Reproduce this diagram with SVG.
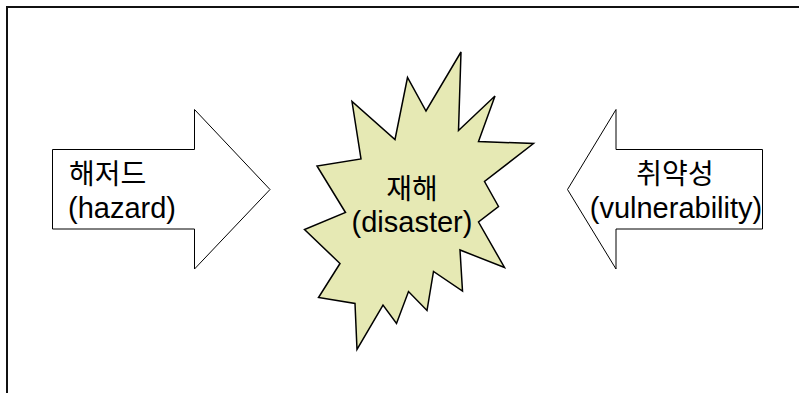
<svg xmlns="http://www.w3.org/2000/svg" width="799" height="393" viewBox="0 0 799 393">
<style>
  .txt { font-family: "Liberation Sans", "Noto Sans CJK KR", Arial, sans-serif; font-size: 29px; fill: #000; }
  .ko { font-size: 28px; }
  .arrow { fill: #fff; stroke: #000; stroke-width: 1; stroke-linejoin: miter; }
  .burst { fill: #E6E9B4; stroke: #000; stroke-width: 1.5; stroke-linejoin: miter; }
</style>
<rect x="0" y="0" width="799" height="393" fill="#fff"/>
<g id="frame">
  <path d="M7,393 V7 H799" fill="none" stroke="#111" stroke-width="2"/>
</g>
<g id="hazard">
  <polygon class="arrow" points="52.5,149.5 194.5,149.5 194.5,109.5 270,189.5 194.5,269 194.5,229 52.5,229"/>
  <text class="txt ko" x="69" y="184">해저드</text>
  <text class="txt" x="68" y="218">(hazard)</text>
</g>
<g id="vulnerability">
  <polygon class="arrow" points="762.5,149.5 616,149.5 616,109.5 567.5,189.5 616,269 616,229 762.5,229"/>
  <text class="txt ko" x="675" y="184" text-anchor="middle">취약성</text>
  <text class="txt" x="676" y="218" text-anchor="middle">(vulnerability)</text>
</g>
<g id="disaster">
  <polygon class="burst" points="461,52 458.5,130.5 495,96 478.5,141.5 533.5,143.5 484.5,181.5 498.5,206.5 478.5,222 504.5,267.5 460,250 462.5,291 433.5,271.5 427,310.5 408.5,291.5 396.5,323.5 383,305 357,349.5 355,303.5 318.5,297.5 340,263.5 304.5,229.5 345.5,212.5 317,166 361,159 352,101.5 395,139.5 407.5,77.5 426,111"/>
  <text class="txt ko" x="412" y="199" text-anchor="middle">재해</text>
  <text class="txt" x="412" y="232" text-anchor="middle">(disaster)</text>
</g>
<g id="connectors"></g>
</svg>
